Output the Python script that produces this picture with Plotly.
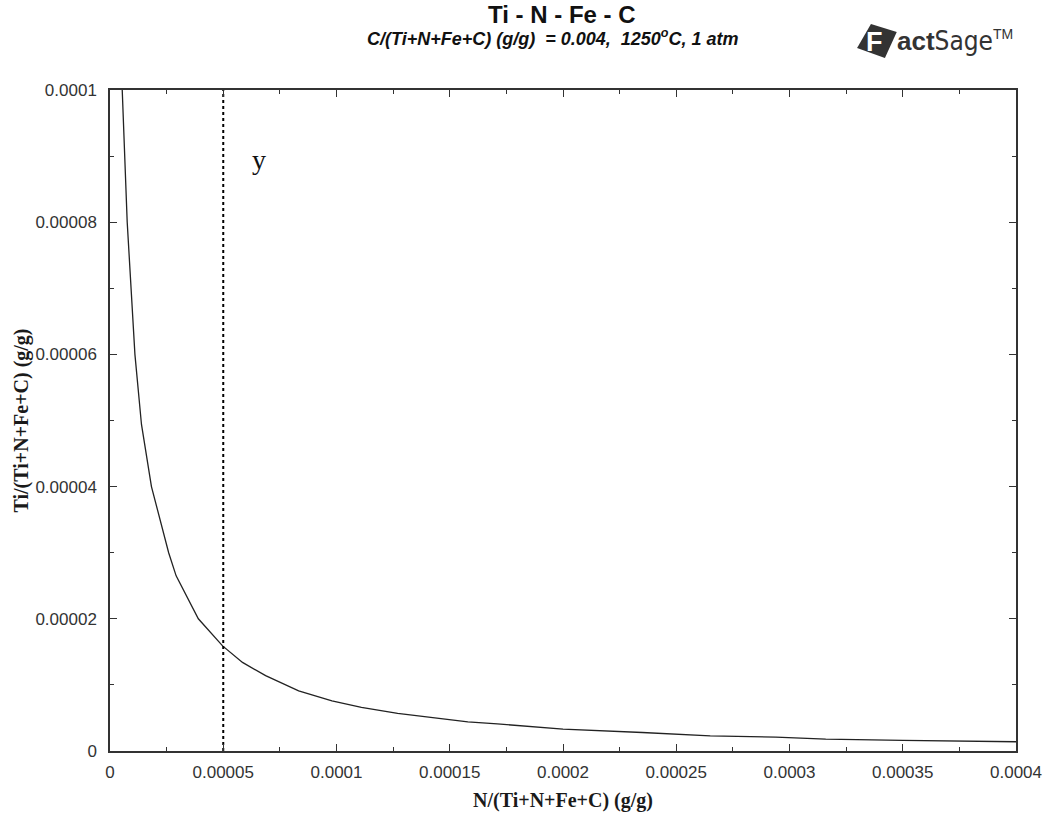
import plotly.graph_objects as go

# Data
n_frac = [5.4e-6, 7.6e-6, 1.1e-5, 1.39e-5, 1.83e-5, 2.59e-5, 2.92e-5, 3.9e-5, 4.97e-5,
          5.85e-5, 6.87e-5, 8.33e-5, 9.8e-5, 1.11e-4, 1.27e-4, 1.42e-4, 1.58e-4, 1.71e-4,
          2.0e-4, 2.35e-4, 2.65e-4, 2.94e-4, 3.16e-4, 3.5e-4, 3.76e-4, 4.0e-4]
ti_frac = [1.0e-4, 8.0e-5, 6.0e-5, 4.94e-5, 4.0e-5, 3.0e-5, 2.65e-5, 2.0e-5, 1.59e-5,
           1.34e-5, 1.14e-5, 9.1e-6, 7.6e-6, 6.6e-6, 5.7e-6, 5.1e-6, 4.4e-6, 4.1e-6,
           3.3e-6, 2.8e-6, 2.3e-6, 2.1e-6, 1.8e-6, 1.6e-6, 1.46e-6, 1.4e-6]
marker_x = 5e-5
x_ticks = [0, 5e-5, 1e-4, 1.5e-4, 2e-4, 2.5e-4, 3e-4, 3.5e-4, 4e-4]
x_tick_text = ["0", "0.00005", "0.0001", "0.00015", "0.0002", "0.00025", "0.0003", "0.00035", "0.0004"]
y_ticks = [0, 2e-5, 4e-5, 6e-5, 8e-5, 1e-4]
y_tick_text = ["0", "0.00002", "0.00004", "0.00006", "0.00008", "0.0001"]

fig = go.Figure()
fig.add_trace(go.Scatter(x=n_frac, y=ti_frac, mode="lines",
                         line=dict(color="#222222", width=1.3), showlegend=False))
fig.add_trace(go.Scatter(x=[marker_x, marker_x], y=[0, 1e-4], mode="lines",
                         line=dict(color="black", width=2, dash="dot"), showlegend=False))

axis_common = dict(showgrid=False, zeroline=False, showline=True, linecolor="#333333",
                   linewidth=1.5, mirror="ticks", ticks="inside", ticklen=7, tickwidth=1.2,
                   tickcolor="#333333",
                   tickfont=dict(family="Arial, Liberation Sans", size=17, color="#333333"))

title_font = dict(family="Times New Roman, Liberation Serif", size=20, color="#1a1a1a")

fig.update_xaxes(range=[0, 4e-4], tickvals=x_ticks, ticktext=x_tick_text,
                 minor=dict(dtick=2.5e-5, ticklen=4, tickcolor="#333333", ticks="inside"),
                 ticklabelstandoff=5,
                 title=dict(text="<b>N/(Ti+N+Fe+C) (g/g)</b>", font=title_font, standoff=12),
                 **axis_common)
fig.update_yaxes(range=[0, 1e-4], tickvals=y_ticks, ticktext=y_tick_text,
                 minor=dict(dtick=1e-5, ticklen=4, tickcolor="#333333", ticks="inside"),
                 ticklabelstandoff=8,
                 title=dict(text="<b>Ti/(Ti+N+Fe+C) (g/g)</b>", font=title_font, standoff=1),
                 **axis_common)

fig.update_layout(
    width=1054, height=820,
    margin=dict(l=110, r=32, t=90, b=68),
    paper_bgcolor="white", plot_bgcolor="white",
    annotations=[
        dict(text="<b>Ti - N - Fe - C</b>", xref="paper", yref="paper", x=0.4993, y=1.0,
             yanchor="middle", yshift=76, showarrow=False,
             font=dict(family="Arial, Liberation Sans", size=24, color="#111")),
        dict(text="<b><i>C/(Ti+N+Fe+C) (g/g)  = 0.004,  1250<sup>o</sup>C, 1 atm</i></b>",
             xref="paper", yref="paper", x=0.489, y=1.0, yanchor="middle", yshift=53,
             showarrow=False, font=dict(family="Arial, Liberation Sans", size=18, color="#111")),
        dict(text="y", x=6.6e-5, y=8.95e-5, xref="x", yref="y", showarrow=False,
             font=dict(family="Times New Roman, Liberation Serif", size=28, color="#111")),
        dict(text="<b>F</b>", xref="paper", yref="paper", x=(890 - 110) / 912, y=1.0,
             yanchor="middle", yshift=48, showarrow=False,
             font=dict(family="Arial, Liberation Sans", size=27, color="white")),
        dict(text="<b>act</b><span style='font-family:DejaVu Sans;font-stretch:condensed'>Sage</span>"
                  "<sup><span style='font-size:14px'>TM</span></sup>",
             xref="paper", yref="paper", x=(900 - 110) / 912, xanchor="left", y=1.0,
             yanchor="middle", yshift=49, showarrow=False,
             font=dict(family="Arial, Liberation Sans", size=26, color="#333")),
    ],
    shapes=[
        dict(type="path", xref="paper", yref="paper",
             path="M 0.8246 1.0634 L 0.8399 1.0997 L 0.8684 1.0876 L 0.8553 1.0483 Z",
             fillcolor="#333333", line=dict(width=0), layer="above"),
    ],
)

fig.write_html("out.html", config={"displayModeBar": False},
               post_script="document.body.style.margin='0';")
